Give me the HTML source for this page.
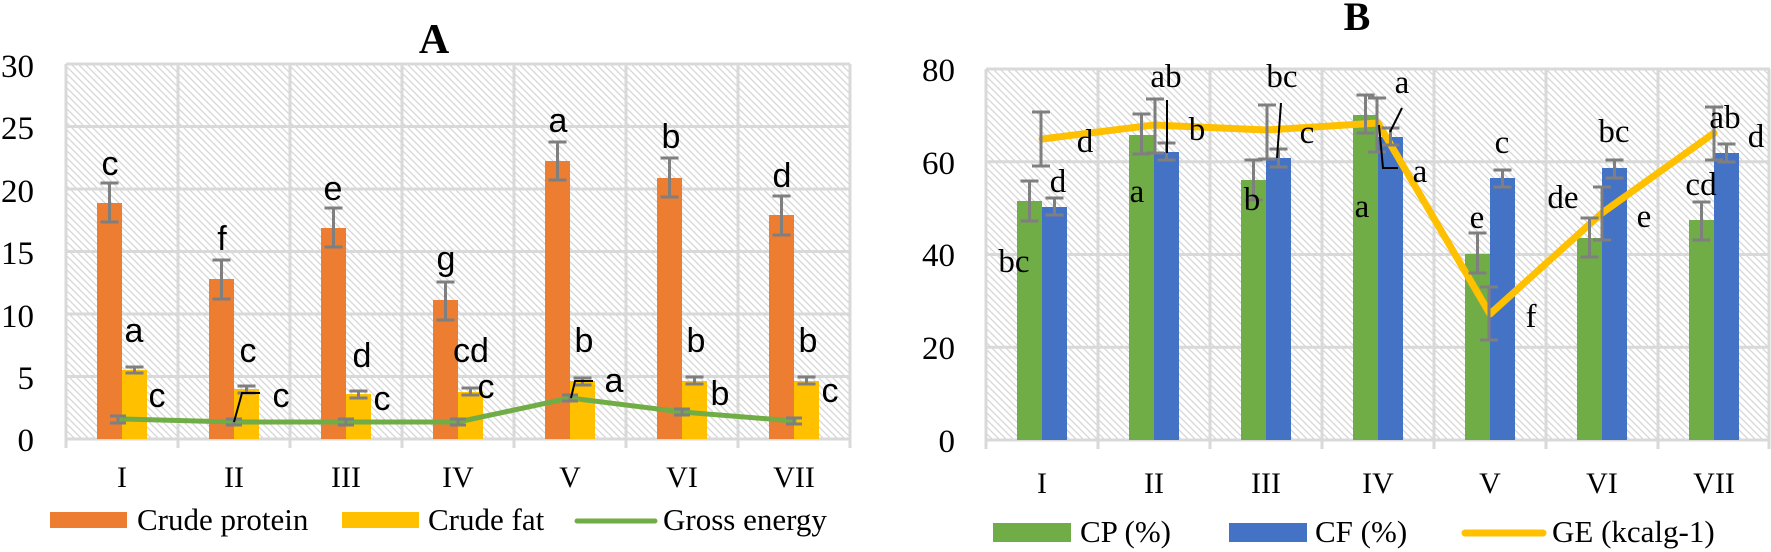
<!DOCTYPE html>
<html><head><meta charset="utf-8"><style>
html,body{margin:0;padding:0;background:#fff;}
svg{display:block;}
.ax{font-family:"Liberation Serif",serif;fill:#000;}
.ls{font-family:"Liberation Sans",sans-serif;font-size:34px;fill:#000;text-anchor:middle;}
.lb{font-family:"Liberation Serif",serif;font-size:33px;fill:#000;text-anchor:middle;}
</style></head><body>
<svg width="1771" height="552" viewBox="0 0 1771 552" xmlns="http://www.w3.org/2000/svg">
<defs>
<pattern id="h" patternUnits="userSpaceOnUse" width="7" height="7">
<path d="M-1,-1 L8,8 M-1,6 L1,8 M6,-1 L8,1" stroke="#d6d6d6" stroke-width="1.3"/>
</pattern>
</defs>
<rect width="1771" height="552" fill="#fff"/>

<!-- ===== Chart A ===== -->
<text x="434" y="53" class="ax" font-size="42" font-weight="bold" text-anchor="middle">A</text>
<rect x="66" y="64" width="784" height="375" fill="url(#h)"/>
<g stroke="#d9d9d9" stroke-width="3" fill="none">
<path d="M66,64H850M66,126.5H850M66,189H850M66,251.5H850M66,314H850M66,376.5H850M66,439H850"/>
<path d="M66,64V448M178,64V448M290,64V448M402,64V448M514,64V448M626,64V448M738,64V448M850,64V448"/>
</g>
<g class="ax" font-size="33" text-anchor="end">
<text x="34" y="77">30</text><text x="34" y="139">25</text><text x="34" y="202">20</text>
<text x="34" y="264">15</text><text x="34" y="327">10</text><text x="34" y="389">5</text><text x="34" y="451">0</text>
</g>
<g class="ax" font-size="30" text-anchor="middle">
<text x="122" y="487">I</text><text x="234" y="487">II</text><text x="346" y="487">III</text><text x="458" y="487">IV</text>
<text x="570" y="487">V</text><text x="682" y="487">VI</text><text x="794" y="487">VII</text>
</g>
<g fill="#ED7D31">
<rect x="97" y="203" width="25" height="236"/><rect x="209" y="279" width="25" height="160"/>
<rect x="321" y="228" width="25" height="211"/><rect x="433" y="300" width="25" height="139"/>
<rect x="545" y="161" width="25" height="278"/><rect x="657" y="178" width="25" height="261"/>
<rect x="769" y="215" width="25" height="224"/>
</g>
<g fill="#FFC000">
<rect x="122" y="370" width="25" height="69"/><rect x="234" y="389" width="25" height="50"/>
<rect x="346" y="394" width="25" height="45"/><rect x="458" y="392" width="25" height="47"/>
<rect x="570" y="381" width="25" height="58"/><rect x="682" y="381" width="25" height="58"/>
<rect x="794" y="381" width="25" height="58"/>
</g>
<polyline points="122,419 234,422 346,422 458,422 570,398 682,412 794,421" fill="none" stroke="#70AD47" stroke-width="5" stroke-linejoin="round" stroke-linecap="round"/>
<g stroke="#7f7f7f" stroke-width="3" fill="none">
<path d="M109.5,183V222M100.5,183H118.5M100.5,222H118.5"/>
<path d="M221.5,260V299M212.5,260H230.5M212.5,299H230.5"/>
<path d="M333.5,208V247M324.5,208H342.5M324.5,247H342.5"/>
<path d="M445.5,282V320M436.5,282H454.5M436.5,320H454.5"/>
<path d="M557.5,142V180M548.5,142H566.5M548.5,180H566.5"/>
<path d="M669.5,158V197M660.5,158H678.5M660.5,197H678.5"/>
<path d="M781.5,196V235M772.5,196H790.5M772.5,235H790.5"/>
<path d="M134.5,367V373M125.5,367H143.5M125.5,373H143.5"/>
<path d="M246.5,386V393M237.5,386H255.5M237.5,393H255.5"/>
<path d="M358.5,391V398M349.5,391H367.5M349.5,398H367.5"/>
<path d="M470.5,388V395M461.5,388H479.5M461.5,395H479.5"/>
<path d="M582.5,378V385M573.5,378H591.5M573.5,385H591.5"/>
<path d="M694.5,377V384M685.5,377H703.5M685.5,384H703.5"/>
<path d="M806.5,377V384M797.5,377H815.5M797.5,384H815.5"/>
<path d="M118,416V423M110,416H126M110,423H126"/>
<path d="M234,419V425M226,419H242M226,425H242"/>
<path d="M346,419V425M338,419H354M338,425H354"/>
<path d="M458,419V425M450,419H466M450,425H466"/>
<path d="M570,395V401M562,395H578M562,401H578"/>
<path d="M682,409V415M674,409H690M674,415H690"/>
<path d="M794,418V424M786,418H802M786,424H802"/>
</g>
<g stroke="#000" stroke-width="2" fill="none">
<path d="M234,422L242,393H260"/>
<path d="M571,398L575,381H593"/>
</g>
<g class="ls">
<text x="110" y="175">c</text><text x="134" y="342">a</text><text x="157" y="407">c</text>
<text x="222" y="250">f</text><text x="248" y="362">c</text><text x="281" y="407">c</text>
<text x="333" y="200">e</text><text x="362" y="367">d</text><text x="382" y="410">c</text>
<text x="446" y="270">g</text><text x="471" y="362">cd</text><text x="486" y="398">c</text>
<text x="558" y="132">a</text><text x="584" y="352">b</text><text x="614" y="392">a</text>
<text x="671" y="148">b</text><text x="696" y="352">b</text><text x="720" y="405">b</text>
<text x="782" y="187">d</text><text x="808" y="352">b</text><text x="830" y="402">c</text>
</g>
<!-- legend A -->
<rect x="50" y="512" width="77" height="16" fill="#ED7D31"/>
<rect x="342" y="512" width="77" height="16" fill="#FFC000"/>
<line x1="577" y1="521" x2="655" y2="521" stroke="#70AD47" stroke-width="5" stroke-linecap="round"/>
<g class="ax" font-size="31">
<text x="137" y="530">Crude protein</text>
<text x="428" y="530">Crude fat</text>
<text x="663" y="530">Gross energy</text>
</g>

<!-- ===== Chart B ===== -->
<text x="1357" y="30" class="ax" font-size="40" font-weight="bold" text-anchor="middle">B</text>
<rect x="986" y="69" width="784" height="371" fill="url(#h)"/>
<g stroke="#d9d9d9" stroke-width="3" fill="none">
<path d="M986,69H1770M986,161.75H1770M986,254.5H1770M986,347.25H1770M986,440H1770"/>
<path d="M986,69V449M1098,69V449M1210,69V449M1322,69V449M1434,69V449M1546,69V449M1658,69V449M1769,69V449"/>
</g>
<g class="ax" font-size="33" text-anchor="end">
<text x="955" y="81">80</text><text x="955" y="174">60</text><text x="955" y="266">40</text>
<text x="955" y="359">20</text><text x="955" y="452">0</text>
</g>
<g class="ax" font-size="30" text-anchor="middle">
<text x="1042" y="493">I</text><text x="1154" y="493">II</text><text x="1266" y="493">III</text><text x="1378" y="493">IV</text>
<text x="1490" y="493">V</text><text x="1602" y="493">VI</text><text x="1714" y="493">VII</text>
</g>
<g fill="#70AD47">
<rect x="1017" y="201" width="25" height="239"/><rect x="1129" y="135" width="25" height="305"/>
<rect x="1241" y="180" width="25" height="260"/><rect x="1353" y="115" width="25" height="325"/>
<rect x="1465" y="254" width="25" height="186"/><rect x="1577" y="238" width="25" height="202"/>
<rect x="1689" y="220" width="25" height="220"/>
</g>
<g fill="#4472C4">
<rect x="1042" y="207" width="25" height="233"/><rect x="1154" y="152" width="25" height="288"/>
<rect x="1266" y="158" width="25" height="282"/><rect x="1378" y="137" width="25" height="303"/>
<rect x="1490" y="178" width="25" height="262"/><rect x="1602" y="168" width="25" height="272"/>
<rect x="1714" y="153" width="25" height="287"/>
</g>
<polyline points="1042,139 1154,125 1266,130 1378,123 1490,314 1602,213 1714,133" fill="none" stroke="#FFC000" stroke-width="7" stroke-linejoin="round" stroke-linecap="round"/>
<g stroke="#7f7f7f" stroke-width="3" fill="none">
<path d="M1029.5,181V221M1020.5,181H1038.5M1020.5,221H1038.5"/>
<path d="M1141.5,114V154M1132.5,114H1150.5M1132.5,154H1150.5"/>
<path d="M1253.5,160V200M1244.5,160H1262.5M1244.5,200H1262.5"/>
<path d="M1365.5,95V133M1356.5,95H1374.5M1356.5,133H1374.5"/>
<path d="M1477.5,233V273M1468.5,233H1486.5M1468.5,273H1486.5"/>
<path d="M1589.5,218V257M1580.5,218H1598.5M1580.5,257H1598.5"/>
<path d="M1701.5,202V240M1692.5,202H1710.5M1692.5,240H1710.5"/>
<path d="M1054.5,198V215M1045.5,198H1063.5M1045.5,215H1063.5"/>
<path d="M1166.5,143V160M1157.5,143H1175.5M1157.5,160H1175.5"/>
<path d="M1278.5,149V167M1269.5,149H1287.5M1269.5,167H1287.5"/>
<path d="M1390.5,128V145M1381.5,128H1399.5M1381.5,145H1399.5"/>
<path d="M1502.5,170V187M1493.5,170H1511.5M1493.5,187H1511.5"/>
<path d="M1614.5,160V178M1605.5,160H1623.5M1605.5,178H1623.5"/>
<path d="M1726.5,144V162M1717.5,144H1735.5M1717.5,162H1735.5"/>
<path d="M1041,112V166M1032,112H1050M1032,166H1050"/>
<path d="M1155,99V153M1146,99H1164M1146,153H1164"/>
<path d="M1267,105V159M1258,105H1276M1258,159H1276"/>
<path d="M1377,98V152M1368,98H1386M1368,152H1386"/>
<path d="M1489,287V340M1480,287H1498M1480,340H1498"/>
<path d="M1602,187V240M1593,187H1611M1593,240H1611"/>
<path d="M1714,107V160M1705,107H1723M1705,160H1723"/>
</g>
<g stroke="#000" stroke-width="2" fill="none">
<path d="M1167,100V153"/>
<path d="M1281,103L1277,158"/>
<path d="M1402,108L1390,132"/>
<path d="M1379,125L1383,168H1398"/>
</g>
<g class="lb">
<text x="1014" y="272">bc</text><text x="1058" y="192">d</text><text x="1085" y="152">d</text>
<text x="1166" y="87">ab</text><text x="1137" y="202">a</text><text x="1197" y="140">b</text>
<text x="1282" y="87">bc</text><text x="1252" y="210">b</text><text x="1307" y="143">c</text>
<text x="1402" y="93">a</text><text x="1420" y="182">a</text><text x="1362" y="217">a</text>
<text x="1477" y="228">e</text><text x="1502" y="153">c</text><text x="1531" y="327">f</text>
<text x="1563" y="208">de</text><text x="1614" y="142">bc</text><text x="1644" y="227">e</text>
<text x="1701" y="195">cd</text><text x="1725" y="128">ab</text><text x="1756" y="147">d</text>
</g>
<!-- legend B -->
<rect x="993" y="523" width="78" height="19" fill="#70AD47"/>
<rect x="1229" y="523" width="78" height="19" fill="#4472C4"/>
<line x1="1465" y1="533" x2="1543" y2="533" stroke="#FFC000" stroke-width="7" stroke-linecap="round"/>
<g class="ax" font-size="31">
<text x="1080" y="542">CP (%)</text>
<text x="1315" y="542">CF (%)</text>
<text x="1552" y="542">GE (kcalg-1)</text>
</g>
</svg>
</body></html>
